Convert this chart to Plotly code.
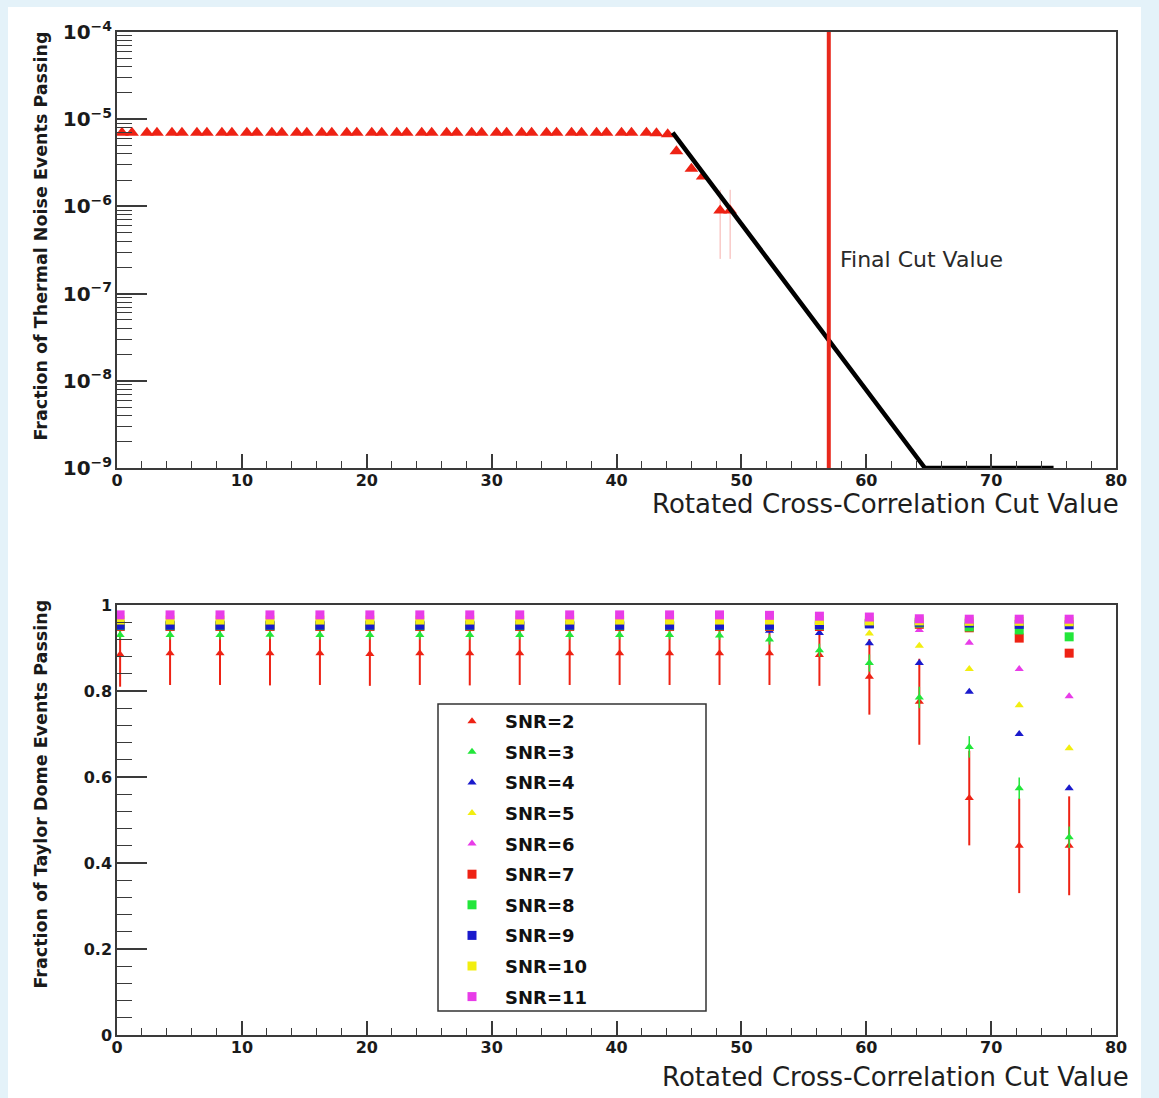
import plotly.graph_objects as go

W, H = 1159, 1098

# ---------------- top panel data (thermal noise) ----------------
noise_cut = [0.4, 1.2, 2.4, 3.2, 4.4, 5.2, 6.4, 7.2, 8.4, 9.2, 10.4, 11.2, 12.4, 13.2,
             14.4, 15.2, 16.4, 17.2, 18.4, 19.2, 20.4, 21.2, 22.4, 23.2, 24.4, 25.2,
             26.4, 27.2, 28.4, 29.2, 30.4, 31.2, 32.4, 33.2, 34.4, 35.2, 36.4, 37.2,
             38.4, 39.2, 40.4, 41.2, 42.4, 43.2, 44.1, 44.8, 46.0, 46.9, 48.3, 49.1]
noise_frac = [7.0e-6, 7.0e-6, 7.0e-6, 7.0e-6, 7.0e-6, 7.0e-6, 7.0e-6, 7.0e-6, 7.0e-6, 7.0e-6,
              7.0e-6, 7.0e-6, 7.0e-6, 7.0e-6, 7.0e-6, 7.0e-6, 7.0e-6, 7.0e-6, 7.0e-6, 7.0e-6,
              7.0e-6, 7.0e-6, 7.0e-6, 7.0e-6, 7.0e-6, 7.0e-6, 7.0e-6, 7.0e-6, 7.0e-6, 7.0e-6,
              7.0e-6, 7.0e-6, 7.0e-6, 7.0e-6, 7.0e-6, 7.0e-6, 7.0e-6, 7.0e-6, 7.0e-6, 7.0e-6,
              7.0e-6, 7.0e-6, 7.0e-6, 6.9e-6, 6.7e-6, 4.3e-6, 2.7e-6, 2.2e-6, 9.0e-7, 9.0e-7]
noise_err = [0, 0, 0, 0, 0, 0, 0, 0, 0, 0, 0, 0, 0, 0, 0, 0, 0, 0, 0, 0, 0, 0, 0, 0, 0,
             0, 0, 0, 0, 0, 0, 0, 0, 0, 0, 0, 0, 0, 0, 0, 0, 0, 0, 0, 0, 0, 0, 0, 6.5e-7, 6.5e-7]
fit_cut = [44.5, 64.7, 75.0]
fit_frac = [7.0e-6, 1.0e-9, 1.0e-9]
final_cut = 57.0
final_cut_span = [1e-9, 1e-4]

# ---------------- bottom panel data (Taylor Dome) ----------------
td_cut = [0.25, 4.25, 8.25, 12.25, 16.25, 20.25, 24.25, 28.25, 32.25, 36.25,
          40.25, 44.25, 48.25, 52.25, 56.25, 60.25, 64.25, 68.25, 72.25, 76.25]
snr_names = ["SNR=2", "SNR=3", "SNR=4", "SNR=5", "SNR=6",
             "SNR=7", "SNR=8", "SNR=9", "SNR=10", "SNR=11"]
snr2 = [0.885, 0.888, 0.888, 0.888, 0.888, 0.886, 0.888, 0.888, 0.888, 0.888,
        0.888, 0.888, 0.888, 0.888, 0.884, 0.833, 0.775, 0.551, 0.440, 0.440]
snr2_err = [0.075, 0.074, 0.074, 0.075, 0.074, 0.074, 0.074, 0.075, 0.074, 0.074,
            0.074, 0.074, 0.074, 0.074, 0.072, 0.088, 0.100, 0.110, 0.110, 0.115]
snr3 = [0.930, 0.930, 0.930, 0.931, 0.930, 0.930, 0.930, 0.930, 0.930, 0.930,
        0.930, 0.930, 0.929, 0.920, 0.895, 0.865, 0.785, 0.670, 0.574, 0.460]
snr3_err = [0.010, 0.010, 0.010, 0.010, 0.010, 0.010, 0.010, 0.010, 0.010, 0.010,
            0.010, 0.010, 0.010, 0.012, 0.015, 0.020, 0.025, 0.025, 0.025, 0.025]
snr4 = [0.945, 0.945, 0.945, 0.945, 0.945, 0.945, 0.945, 0.945, 0.945, 0.945,
        0.945, 0.945, 0.944, 0.940, 0.935, 0.911, 0.865, 0.798, 0.700, 0.574]
snr5 = [0.958, 0.958, 0.958, 0.958, 0.958, 0.958, 0.958, 0.958, 0.958, 0.958,
        0.958, 0.958, 0.957, 0.956, 0.951, 0.934, 0.905, 0.851, 0.767, 0.667]
snr6 = [0.968, 0.968, 0.968, 0.968, 0.968, 0.968, 0.968, 0.968, 0.968, 0.968,
        0.968, 0.968, 0.968, 0.967, 0.966, 0.956, 0.942, 0.912, 0.851, 0.788]
snr7 = [0.950, 0.950, 0.950, 0.950, 0.950, 0.950, 0.950, 0.950, 0.950, 0.950,
        0.950, 0.950, 0.950, 0.950, 0.950, 0.958, 0.955, 0.947, 0.923, 0.888]
snr8 = [0.952, 0.952, 0.952, 0.952, 0.952, 0.952, 0.952, 0.952, 0.952, 0.952,
        0.952, 0.952, 0.952, 0.952, 0.953, 0.957, 0.958, 0.949, 0.942, 0.926]
snr9 = [0.953, 0.953, 0.953, 0.953, 0.953, 0.953, 0.953, 0.953, 0.953, 0.953,
        0.953, 0.953, 0.953, 0.953, 0.954, 0.956, 0.960, 0.958, 0.955, 0.954]
snr10 = [0.965, 0.965, 0.965, 0.965, 0.965, 0.965, 0.965, 0.965, 0.965, 0.965,
         0.965, 0.965, 0.965, 0.965, 0.964, 0.963, 0.963, 0.962, 0.962, 0.961]
snr11 = [0.977, 0.977, 0.977, 0.977, 0.977, 0.977, 0.977, 0.977, 0.977, 0.977,
         0.977, 0.977, 0.977, 0.976, 0.974, 0.972, 0.968, 0.967, 0.967, 0.967]

x_ticks = [0, 10, 20, 30, 40, 50, 60, 70, 80]
td_y_ticks = [0, 0.2, 0.4, 0.6, 0.8, 1]
td_y_labels = ["0", "0.2", "0.4", "0.6", "0.8", "1"]

# ---------------- styling ----------------
RED, GREEN, BLUE, YELLOW, MAGENTA = "#ee2214", "#22e63a", "#1a1acc", "#f2ee10", "#e83ce8"
snr_colors = [RED, GREEN, BLUE, YELLOW, MAGENTA, RED, GREEN, BLUE, YELLOW, MAGENTA]
snr_symbols = ["triangle-up"] * 5 + ["square"] * 5
AX = "#3a3a3a"
BOLD = "DejaVu Sans, Liberation Sans, sans-serif"
LAB_FONT = dict(family=BOLD, size=16, color="#1a1a1a", weight="bold")


def px_x(p):
    return p / W


def px_y(p):
    return 1 - p / H


fig = go.Figure()

# top panel
fig.add_trace(go.Scatter(
    x=noise_cut, y=noise_frac, mode="markers", xaxis="x", yaxis="y", showlegend=False,
    marker=dict(symbol="triangle-up", size=12, color=RED),
    error_y=dict(type="data", array=noise_err, color="rgba(235,80,70,0.45)", thickness=1, width=0),
))
fig.add_trace(go.Scatter(
    x=fit_cut, y=fit_frac, mode="lines", xaxis="x", yaxis="y", showlegend=False,
    line=dict(color="black", width=4.5),
))
fig.add_trace(go.Scatter(
    x=[final_cut, final_cut], y=final_cut_span, mode="lines", xaxis="x", yaxis="y",
    showlegend=False, line=dict(color="#e8281c", width=4),
))

# bottom panel
series = [snr2, snr3, snr4, snr5, snr6, snr7, snr8, snr9, snr10, snr11]
errs = [snr2_err, snr3_err] + [None] * 8
for i, (name, vals) in enumerate(zip(snr_names, series)):
    sym = snr_symbols[i]
    kw = {}
    if errs[i] is not None:
        kw["error_y"] = dict(type="data", array=errs[i], color=snr_colors[i],
                             thickness=2 if i == 0 else 1.5, width=0)
    fig.add_trace(go.Scatter(
        x=td_cut, y=vals, mode="markers", name=name, xaxis="x2", yaxis="y2",
        legendgroup="g%d" % i,
        marker=dict(symbol=sym, size=8 if sym == "triangle-up" else 9, color=snr_colors[i]),
        **kw,
    ))

xdom = [px_x(117), px_x(1116)]
common_x = dict(
    range=[0, 80], domain=xdom, tickvals=x_ticks, ticktext=[str(v) for v in x_ticks],
    ticks="inside", ticklen=14, tickwidth=1.5, tickcolor=AX,
    minor=dict(ticks="inside", ticklen=7, tickwidth=1.2, tickcolor=AX, dtick=2, showgrid=False),
    showline=True, linecolor=AX, linewidth=1.5, mirror=True, showgrid=False, zeroline=False,
    tickfont=LAB_FONT, automargin=False, ticklabelstandoff=-3,
)
fig.update_layout(
    width=W, height=H, margin=dict(l=0, r=0, t=0, b=0, pad=0, autoexpand=False),
    paper_bgcolor="#e4f2f9", plot_bgcolor="white",
    xaxis=dict(anchor="y", **common_x),
    yaxis=dict(
        type="log", range=[-9, -4], domain=[px_y(468), px_y(32)], anchor="x",
        dtick=1, exponentformat="power", showexponent="all",
        ticks="inside", ticklen=30, tickwidth=1.5, tickcolor=AX,
        minor=dict(ticks="inside", ticklen=15, tickwidth=1.2, tickcolor=AX, showgrid=False),
        showline=True, linecolor=AX, linewidth=1.5, mirror=True, showgrid=False, zeroline=False,
        tickfont=LAB_FONT, automargin=False,
    ),
    xaxis2=dict(anchor="y2", **common_x),
    yaxis2=dict(
        range=[0, 1], domain=[px_y(1035), px_y(605)], anchor="x2",
        tickvals=td_y_ticks, ticktext=td_y_labels,
        ticks="inside", ticklen=30, tickwidth=1.5, tickcolor=AX,
        minor=dict(ticks="inside", ticklen=15, tickwidth=1.2, tickcolor=AX, dtick=0.04, showgrid=False),
        showline=True, linecolor=AX, linewidth=1.5, mirror=True, showgrid=False, zeroline=False,
        tickfont=LAB_FONT, automargin=False,
    ),
    legend=dict(
        x=px_x(439), y=px_y(703), xanchor="left", yanchor="top",
        bgcolor="rgba(0,0,0,0)", borderwidth=0, itemwidth=56, tracegroupgap=4.2,
        font=dict(family=BOLD, size=18, color="#111", weight="bold"),
    ),
    shapes=[
        dict(type="rect", xref="paper", yref="paper", x0=px_x(8), x1=px_x(1141), y0=px_y(1098), y1=px_y(7),
             fillcolor="white", line=dict(width=0), layer="below"),
        dict(type="rect", xref="paper", yref="paper", x0=px_x(438), x1=px_x(706), y0=px_y(1011), y1=px_y(704),
             fillcolor="white", line=dict(color="#333", width=1.5), layer="above"),
    ],
    annotations=[
        dict(text="Final Cut Value", x=57.7, y=-6.61, xref="x", yref="y", xanchor="left", yanchor="middle",
             showarrow=False, font=dict(family="DejaVu Sans", size=22, color="#2a2a2a")),
        dict(text="Rotated Cross-Correlation Cut Value", x=px_x(1121), y=px_y(504), xref="paper", yref="paper",
             xanchor="right", yanchor="middle", showarrow=False,
             font=dict(family="DejaVu Sans", size=26, color="#1e1e1e")),
        dict(text="Rotated Cross-Correlation Cut Value", x=px_x(1131), y=px_y(1077), xref="paper", yref="paper",
             xanchor="right", yanchor="middle", showarrow=False,
             font=dict(family="DejaVu Sans", size=26, color="#1e1e1e")),
        dict(text="Fraction of Thermal Noise Events Passing", x=px_x(40), y=px_y(30), xref="paper", yref="paper",
             xanchor="center", yanchor="top", textangle=-90, showarrow=False,
             font=dict(family=BOLD, size=17.5, color="#1a1a1a", weight="bold")),
        dict(text="Fraction of Taylor Dome Events Passing", x=px_x(40), y=px_y(598), xref="paper", yref="paper",
             xanchor="center", yanchor="top", textangle=-90, showarrow=False,
             font=dict(family=BOLD, size=17.5, color="#1a1a1a", weight="bold")),
    ],
)

fig.write_html("out.html")
